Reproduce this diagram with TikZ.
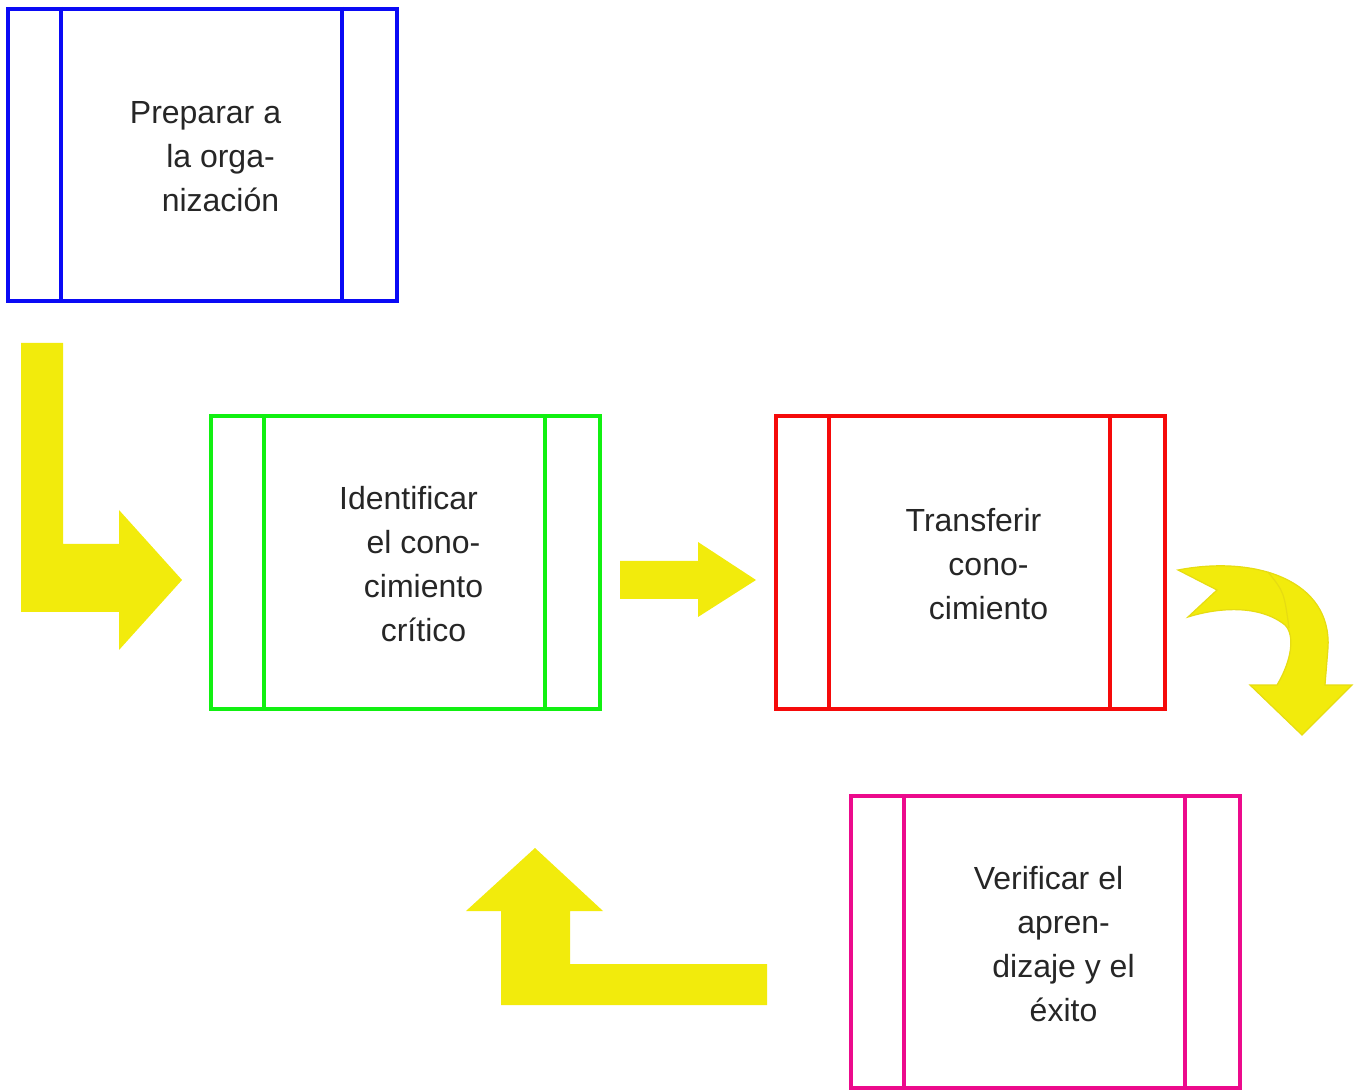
\documentclass[tikz,border=0pt]{standalone}
\usepackage{fontspec}
\setmainfont{Liberation Sans}
\definecolor{boxblue}{HTML}{0A0AF5}
\definecolor{boxgreen}{HTML}{11F011}
\definecolor{boxred}{HTML}{F50A0A}
\definecolor{boxpink}{HTML}{EC0A8C}
\definecolor{arrowyel}{HTML}{F2EB0C}
\definecolor{arrowedge}{HTML}{E6DC12}
\tikzset{
  procbox/.style={draw=#1,line width=2pt,minimum width=194.5pt,minimum height=146pt,inner sep=0pt},
  proclbl/.style={align=center,font=\fontsize{16}{22}\selectfont,text=black!85},
  blockarrow/.style={fill=arrowyel,draw=none}
}
\begin{document}
\begin{tikzpicture}[x=0.5pt,y=-0.5pt]
 \useasboundingbox (0,0) rectangle (1360,1090);
 % boxes
 \node[procbox=boxblue]  (prep)  at (202.5,155)  {};
 \node[procbox=boxgreen] (ident) at (405.5,562.5) {};
 \node[procbox=boxred]   (trans) at (970.5,562.5) {};
 \node[procbox=boxpink]  (verif) at (1045.5,942) {};
 \foreach \b/\c in {prep/boxblue,ident/boxgreen,trans/boxred,verif/boxpink}{
   \draw[\c,line width=2pt] ([xshift=27.5pt]\b.north west) -- ([xshift=27.5pt]\b.south west);
   \draw[\c,line width=2pt] ([xshift=-28.5pt]\b.north east) -- ([xshift=-28.5pt]\b.south east);
 }
 % labels
 \node[proclbl] (prepl)  at ([xshift=9pt,yshift=-1pt]prep.center)  {Preparar a\hspace*{15pt}\\la orga-\\nización};
 \node[proclbl] (identl) at ([xshift=9pt,yshift=-1pt]ident.center) {Identificar\hspace*{15pt}\\el cono-\\cimiento\\crítico};
 \node[proclbl] (transl) at ([xshift=9pt,yshift=-1pt]trans.center) {Transferir\hspace*{15pt}\\cono-\\cimiento};
 \node[proclbl] (verifl) at ([xshift=9pt,yshift=-1pt]verif.center) {Verificar el\hspace*{15pt}\\apren-\\dizaje y el\\éxito};
 % arrows
 \fill[blockarrow] (21,343) -- (63,343) -- (63,544) -- (119,544) -- (119,510) -- (182,580)
   -- (119,650) -- (119,612) -- (21,612) -- cycle;
 \fill[blockarrow] (620,561) -- (698,561) -- (698,542) -- (756,580) -- (698,617) -- (698,599)
   -- (620,599) -- cycle;
 \filldraw[blockarrow,draw=arrowedge,line width=0.6pt] (1178,570) .. controls (1255,555) and (1332,580) .. (1328,648)
   -- (1325,685) -- (1352,685) -- (1302,735) -- (1250,685) -- (1277,685)
   .. controls (1292,660) and (1295,635) .. (1285,625)
   .. controls (1260,605) and (1220,607) .. (1188,617) -- (1217,590) -- cycle;
 \draw[arrowedge,line width=0.6pt] (1268,572) .. controls (1284,592) .. (1289,628);
 \fill[blockarrow] (767,964) -- (767,1005) -- (501,1005) -- (501,911) -- (466,911) -- (535,848)
   -- (603,911) -- (570,911) -- (570,964) -- cycle;
\end{tikzpicture}
\end{document}
